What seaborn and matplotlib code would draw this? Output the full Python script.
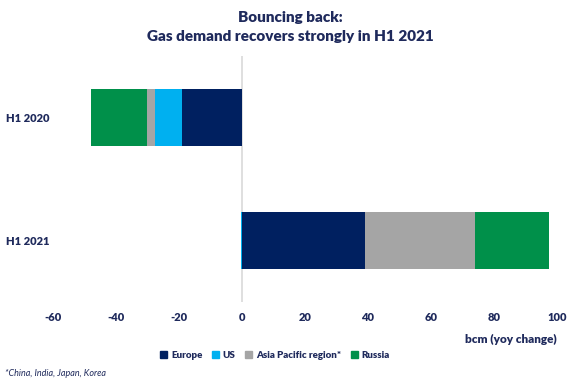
import pandas as pd
import seaborn as sns
import matplotlib.pyplot as plt
from matplotlib.patches import Patch

# Data (bcm, yoy change)
periods = ["H1 2020", "H1 2021"]
regions = ["Europe", "US", "Asia Pacific region*", "Russia"]
europe = [-19.0, 39.0]
us = [-8.5, -0.3]
asia = [-2.6, 35.0]
russia = [-17.9, 23.5]
colors = {"Europe": "#002060", "US": "#00B0F0",
          "Asia Pacific region*": "#A5A5A5", "Russia": "#00904A"}
navy = "#1F2A5C"

sns.set_style("white")
plt.rcParams["font.family"] = ["Lato", "DejaVu Sans"]
plt.rcParams["axes.unicode_minus"] = False

# stack positives and negatives separately -> cumulative ends for overlay drawing
series = {"Europe": europe, "US": us, "Asia Pacific region*": asia, "Russia": russia}
rows = []
for i, p in enumerate(periods):
    pos, neg = 0.0, 0.0
    for r in regions:
        v = series[r][i]
        if v >= 0:
            pos += v
            end = pos
        else:
            neg += v
            end = neg
        rows.append({"period": p, "region": r, "end": end})
df = pd.DataFrame(rows)

fig = plt.figure(figsize=(5.8, 3.8), dpi=100)
ax = fig.add_axes([53 / 580, 1 - 302 / 380, 504 / 580, 246 / 380])

# draw outermost segment first so inner ones sit on top
sns.barplot(data=df, x="end", y="period", hue="region",
            hue_order=regions[::-1], palette=colors, dodge=False,
            width=0.46, order=periods, orient="h", ax=ax, legend=False,
            saturation=1, linewidth=0)

ax.axvline(0, color="#D9D9D9", lw=1.2, zorder=0)
ax.set_xlim(-60, 100)
ax.set_ylim(1.5, -0.5)
ax.set_xticks(range(-60, 101, 20))
ax.set_xlabel("")
ax.set_ylabel("")
sns.despine(ax=ax, left=True, bottom=True)
ax.tick_params(length=0, labelsize=8, labelcolor=navy)
ax.tick_params(axis="x", pad=7)
for lab in ax.get_xticklabels():
    lab.set_fontweight("heavy")
ax.set_yticks([0, 1])
ax.set_yticklabels(periods, fontweight="heavy", ha="left")
ax.yaxis.set_tick_params(pad=34)

fig.text(0.5, 1 - 27 / 380, "Bouncing back:\nGas demand recovers strongly in H1 2021",
         ha="center", va="center", fontsize=11, fontweight="heavy", color=navy,
         linespacing=1.5)
fig.text(557 / 580, 1 - 339 / 380, "bcm (yoy change)", ha="right", va="center",
         fontsize=8.5, fontweight="heavy", color=navy)
fig.text(5 / 580, 1 - 374 / 380, "*China, India, Japan, Korea", ha="left",
         va="center", fontsize=6.5, style="italic", color=navy)

handles = [Patch(color=colors[r], label=r) for r in regions]
fig.legend(handles=handles, loc="center", bbox_to_anchor=(275 / 580, 1 - 355 / 380),
           ncol=4, frameon=False, handlelength=0.7, handleheight=0.7,
           handletextpad=0.4, columnspacing=1.0,
           prop={"weight": "heavy", "size": 7})
for t in fig.legends[0].get_texts():
    t.set_color(navy)

fig.savefig("out.png", dpi=100)
